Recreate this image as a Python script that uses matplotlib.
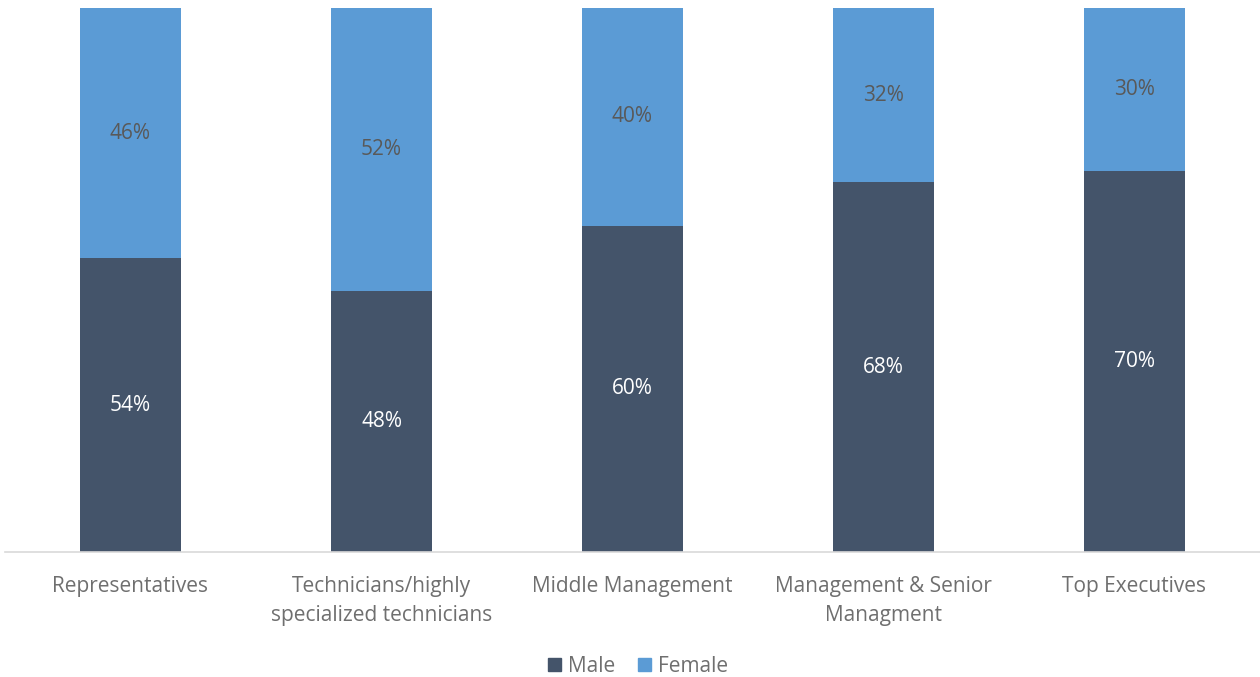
import matplotlib
matplotlib.use("Agg")
import matplotlib.pyplot as plt
from matplotlib.patches import Patch

categories = ["Representatives", "Technicians/highly\nspecialized technicians", "Middle Management",
              "Management & Senior\nManagment", "Top Executives"]
male = [54, 48, 60, 68, 70]
female = [46, 52, 40, 32, 30]

male_color = "#44546A"
female_color = "#5B9BD5"
text_gray = "#595959"
axis_gray = "#6F6F6F"

plt.rcParams['font.family'] = ['Open Sans', 'DejaVu Sans']

fig = plt.figure(figsize=(12.6, 6.77), dpi=100)
ax = fig.add_axes([5/1260, 1 - 552/677, 1255/1260, 544/677])

x = list(range(len(categories)))
tot = [m + f for m, f in zip(male, female)]
mp = [m / t for m, t in zip(male, tot)]
fp = [f / t for f, t in zip(female, tot)]
ax.bar(x, mp, width=0.4, color=male_color, zorder=2)
ax.bar(x, fp, width=0.4, bottom=mp, color=female_color, zorder=2)

fs = 15
for i in x:
    ax.text(i, mp[i] / 2, f"{male[i]}%", ha="center", va="center", color="white", fontsize=fs)
    ax.text(i, mp[i] + fp[i] / 2, f"{female[i]}%", ha="center", va="center", color=text_gray, fontsize=fs)

ax.set_xlim(-0.5, 4.5)
ax.set_ylim(0, 1)
ax.set_xticks(x)
ax.set_xticklabels(categories, fontsize=fs, color=axis_gray, linespacing=1.55)
ax.tick_params(axis="x", length=0, pad=17)
ax.set_yticks([])
for s in ["top", "left", "right"]:
    ax.spines[s].set_visible(False)
ax.spines["bottom"].set_color("#D9D9D9")
ax.spines["bottom"].set_linewidth(1.2)

handles = [Patch(color=male_color, label="Male"), Patch(color=female_color, label="Female")]
fig.legend(handles=handles, loc="center", bbox_to_anchor=(638/1260, 1 - 666/677), ncol=2, frameon=False,
           fontsize=fs, labelcolor=axis_gray, handlelength=0.6, handleheight=0.6, handletextpad=0.35,
           columnspacing=1.1)

fig.savefig("out.png", dpi=100)
